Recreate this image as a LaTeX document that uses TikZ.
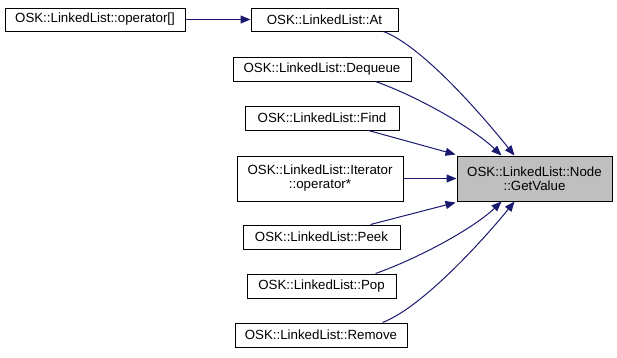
\documentclass[tikz,border=0pt]{standalone}
\usepackage{fontspec}
\setmainfont{Liberation Sans}
\usetikzlibrary{arrows.meta}
\definecolor{edgeblue}{HTML}{191970}
\definecolor{hilite}{HTML}{BFBFBF}
\begin{document}
\begin{tikzpicture}[x=1pt,y=-1pt,
  fn/.style={draw=black, line width=1pt, fill=white, inner sep=0pt, align=center,
    font=\fontsize{13.3}{14}\selectfont},
  focus/.style={fn, fill=hilite},
  call/.style={draw=edgeblue, line width=1pt,
    -{Triangle[length=10pt,width=8pt]}, fill=none}]
\useasboundingbox (0,0) rectangle (617,357);
\fill[white] (0,0) rectangle (617,357);

% callers of the member
\node[fn, minimum width=180, minimum height=23] (opidx) at (95,19.5) {OSK::LinkedList::operator[]};
\node[fn, minimum width=147, minimum height=23] (at) at (324.5,19.5) {OSK::LinkedList::At};
\node[fn, minimum width=178, minimum height=24] (deq) at (322,69) {OSK::LinkedList::Dequeue};
\node[fn, minimum width=154, minimum height=24] (find) at (322,118) {OSK::LinkedList::Find};
\node[fn, minimum width=166, minimum height=45] (iter) at (320,178.5) {OSK::LinkedList::Iterator\\::operator*};
\node[fn, minimum width=157, minimum height=24] (peek) at (321.5,237) {OSK::LinkedList::Peek};
\node[fn, minimum width=149, minimum height=24] (pop) at (321.5,286) {OSK::LinkedList::Pop};
\node[fn, minimum width=172, minimum height=24] (rem) at (321,335) {OSK::LinkedList::Remove};

% the documented member
\node[focus, minimum width=155, minimum height=45] (gv) at (534.5,178.5) {OSK::LinkedList::Node\\::GetValue};

% call edges
\draw[call] (opidx.east) -- (at.west);
\draw[call] ([xshift=-15pt]at.south east) .. controls +(42,16) and +(-25,-31) .. ([xshift=-20pt]gv.north);
\draw[call] ([xshift=-36pt]deq.south east) .. controls +(45,16) and +(-27,-26) .. ([xshift=-33pt]gv.north);
\draw[call] ([xshift=-31pt]find.south east) -- ([xshift=-1pt,yshift=1pt]gv.north west);
\draw[call] (iter.east) -- (gv.west);
\draw[call] ([xshift=-30pt]peek.north east) -- ([xshift=-1pt,yshift=-1pt]gv.south west);
\draw[call] ([xshift=-21pt]pop.north east) .. controls +(45,-16) and +(-27,26) .. ([xshift=-33pt]gv.south);
\draw[call] ([xshift=-25pt]rem.north east) .. controls +(42,-16) and +(-25,31) .. ([xshift=-20pt]gv.south);
\end{tikzpicture}
\end{document}
